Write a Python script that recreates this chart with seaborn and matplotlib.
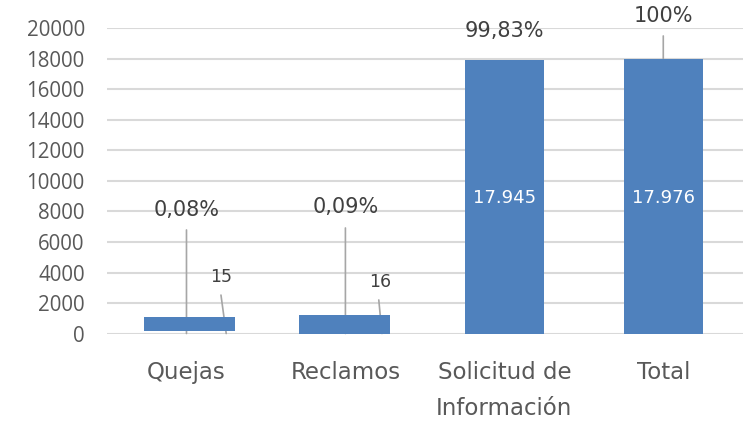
import matplotlib
matplotlib.use("Agg")
import matplotlib.pyplot as plt
import pandas as pd
import seaborn as sns

# ---------------------------------------------------------------------------
# Data
# ---------------------------------------------------------------------------
categorias = ["Quejas", "Reclamos", "Solicitud de\nInformación", "Total"]
valores = [15, 16, 17945, 17976]
porcentajes = ["0,08%", "0,09%", "99,83%", "100%"]
etiquetas_valor = ["15", "16", "17.945", "17.976"]
# rectangles as they appear in the picture (bottom / top)
base_barra = [160, 0, 0, 0]
tope_barra = [1080, 1210, 17945, 17976]
yticks = list(range(0, 20001, 2000))

AZUL = "#4F81BD"
GRIS_TXT = "#404040"
GRIS_EJE = "#595959"
GRIS_GRID = "#D9D9D9"
GRIS_LINEA = "#A6A6A6"

sns.set_theme(style="white")
plt.rcParams["font.family"] = ["DejaVu Sans"]

df = pd.DataFrame({"categoria": categorias, "altura": tope_barra})

fig = plt.figure(figsize=(7.51, 4.22), dpi=100)
ax = fig.add_axes([0.1425, 0.2097, 0.8465, 0.7228])

sns.barplot(data=df, x="categoria", y="altura", color=AZUL, width=0.5,
            saturation=1, ax=ax, zorder=3)

# first two rectangles are a bit wider, the first one floats
desplaz = [0.019, -0.006, 0, 0]
for i, p in enumerate(ax.patches):
    if i < 2:
        w = 0.573
        p.set_x(i - w / 2 + desplaz[i])
        p.set_width(w)
    p.set_y(base_barra[i])
    p.set_height(tope_barra[i] - base_barra[i])
    p.set_edgecolor("none")

ax.set_ylim(0, 20000)
ax.set_xlim(-0.5, 3.5)
ax.set_yticks(yticks)
ax.yaxis.grid(True, color=GRIS_GRID, linewidth=1.5, zorder=0)
ax.set_axisbelow(True)
for s in ax.spines.values():
    s.set_visible(False)
ax.set_xlabel("")
ax.set_ylabel("")
ax.tick_params(axis="y", length=0, pad=16, labelcolor=GRIS_EJE)
ax.tick_params(axis="x", length=0, pad=19.5, labelsize=16.5, labelcolor=GRIS_EJE)
for t in ax.get_yticklabels():
    t.set_fontfamily(["Open Sans", "DejaVu Sans"])
    t.set_fontsize(14.8)
for t in ax.get_xticklabels():
    t.set_linespacing(1.75)

line_kw = dict(arrowstyle="-", color=GRIS_LINEA, lw=1.2, shrinkA=0, shrinkB=0)

# percentage labels with leader lines
pct_pos = [(0, 8100), (1, 8300), (2, 19840), (3, 20820)]
pct_line = [(6790, 0), (6920, 0), None, (19510, valores[3])]
for i, (x, y) in enumerate(pct_pos):
    ax.text(x, y, porcentajes[i], ha="center", va="center", fontsize=15,
            color=GRIS_TXT, clip_on=False, zorder=5)
    if pct_line[i] is not None:
        y0, y1 = pct_line[i]
        ax.annotate("", xy=(x, y1), xytext=(x, y0), arrowprops=line_kw,
                    zorder=2, annotation_clip=False)

# small value labels with leader lines
val_pos = [(0.217, 3700), (1.217, 3380)]
val_line = [((0.217, 2520), (0.25, 0)), ((1.21, 2200), (1.23, 0))]
for i, (x, y) in enumerate(val_pos):
    ax.text(x, y, etiquetas_valor[i], ha="center", va="center", fontsize=12.5,
            color=GRIS_TXT, zorder=5)
    (x0, y0), (x1, y1) = val_line[i]
    ax.annotate("", xy=(x1, y1), xytext=(x0, y0), arrowprops=line_kw, zorder=2)

# values inside the big bars
for i in (2, 3):
    ax.text(i, 8885, etiquetas_valor[i], ha="center", va="center",
            fontsize=13, color="white", zorder=5)

fig.savefig("out.png", dpi=100)
